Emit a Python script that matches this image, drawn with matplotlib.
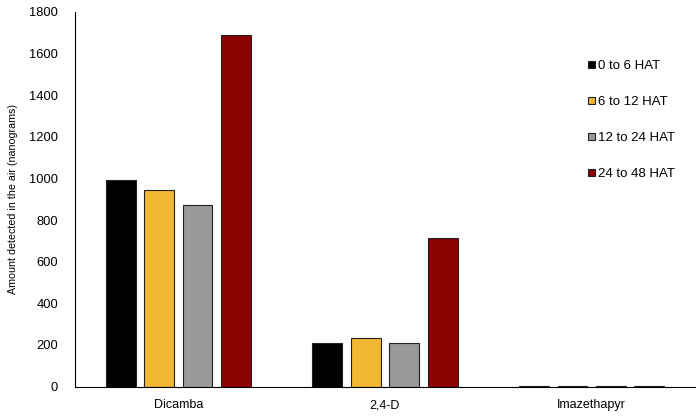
import matplotlib
matplotlib.use("Agg")
import matplotlib.pyplot as plt
import numpy as np

plt.rcParams['font.family'] = ['Liberation Sans', 'DejaVu Sans']

herbicides = ["Dicamba", "2,4-D", "Imazethapyr"]
periods = ["0 to 6 HAT", "6 to 12 HAT", "12 to 24 HAT", "24 to 48 HAT"]
amounts = [
    [991, 210, 4],    # 0 to 6 HAT
    [943, 232, 4],    # 6 to 12 HAT
    [871, 208, 4],    # 12 to 24 HAT
    [1689, 714, 4],   # 24 to 48 HAT
]
colors = ["#000000", "#f2b733", "#999999", "#8b0000"]

fig = plt.figure(figsize=(7, 4.18), dpi=100)
ax = fig.add_axes([0.107, 0.075, 0.886, 0.897])

x = np.arange(len(herbicides))
step = 0.186
width = 0.145
for i, (label, vals) in enumerate(zip(periods, amounts)):
    ax.bar(x + (i - 1.5) * step, vals, width, color=colors[i],
           edgecolor="#222222", linewidth=0.8, label=label)

ax.set_xlim(-0.5, 2.5)
ax.set_ylim(0, 1800)
ax.set_yticks(np.arange(0, 1801, 200))
ax.set_xticks(x)
ax.set_xticklabels(herbicides, fontsize=9)
ax.tick_params(axis='y', labelsize=9.3, length=0, pad=12)
ax.tick_params(axis='x', length=0, pad=9)
ax.spines['top'].set_visible(False)
ax.spines['right'].set_visible(False)
ax.spines['left'].set_linewidth(0.8)
ax.spines['bottom'].set_linewidth(0.8)
ax.set_ylabel("Amount detected in the air (nanograms)", fontsize=7.7, labelpad=8)

ax.legend(loc="upper left", bbox_to_anchor=(588 / 700, 1 - 60 / 418),
          bbox_transform=fig.transFigure, frameon=False,
          fontsize=9.5, handlelength=0.5, handleheight=0.5,
          handletextpad=0.25, labelspacing=1.82,
          borderpad=0, borderaxespad=0)

fig.savefig("out.png", dpi=100)
